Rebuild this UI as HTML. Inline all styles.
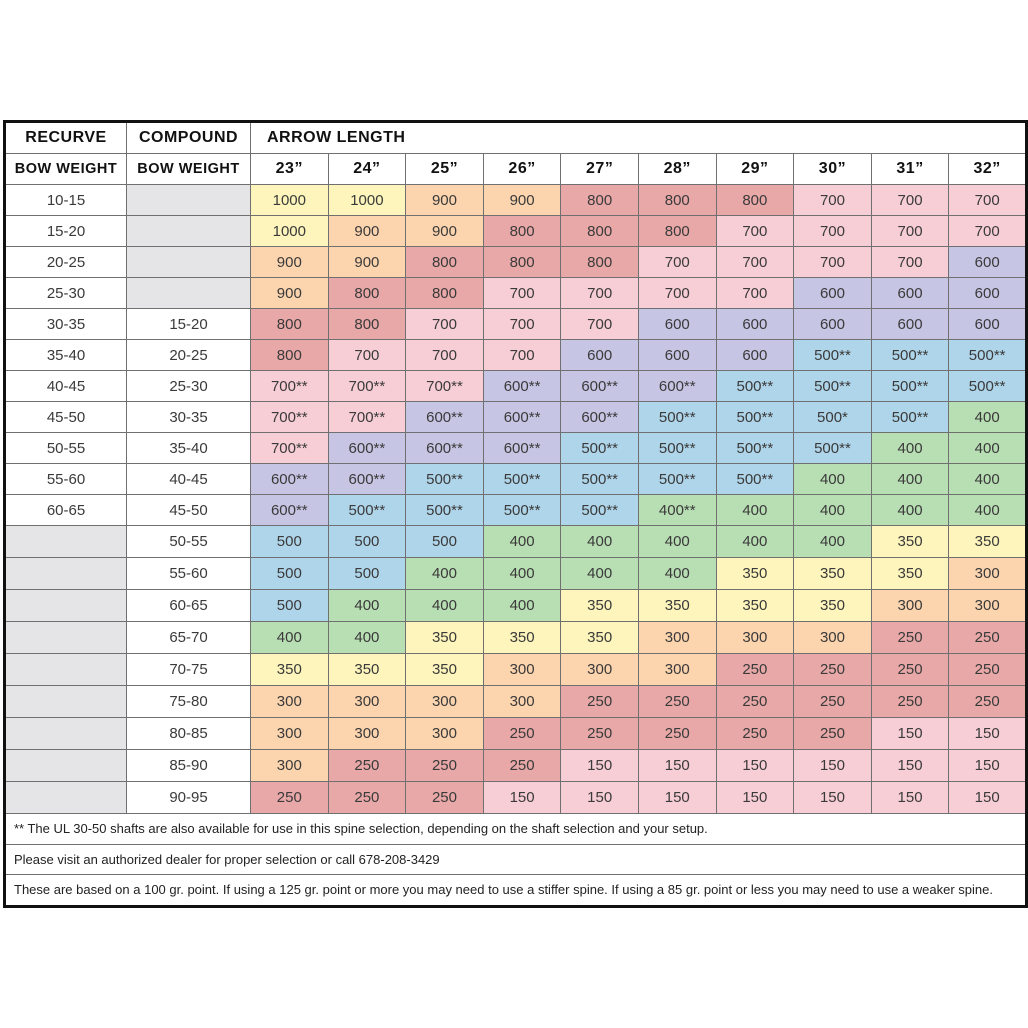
<!DOCTYPE html>
<html><head><meta charset="utf-8"><style>
body{margin:0;background:#fff;width:1028px;height:1028px;position:relative;font-family:"Liberation Sans",sans-serif;}
table{position:absolute;left:3px;top:120px;width:1022px;border-collapse:collapse;table-layout:fixed;border:3px solid #111;}
td{border:1.5px solid #707070;text-align:center;font-size:15px;color:#3a3a3a;padding:0;overflow:hidden;white-space:nowrap;}
tr.h td{font-weight:bold;color:#111;font-size:16px;letter-spacing:0.5px;}
tr.a td{height:30px}
tr.b td{height:31px}
tr.f td{height:29.5px;text-align:left;font-size:13px;padding-left:8px;color:#222}
.Y{background:#fdf5bb}.O{background:#fcd4ae}.R{background:#e9a8a8}.P{background:#f8ced6}.L{background:#c6c5e4}.B{background:#afd5ea}.G{background:#b8deb3}.X{background:#e5e5e7}
</style></head><body>
<table>
<colgroup><col style="width:122px"><col style="width:124px"><col span="10" style="width:77.6px"></colgroup>
<tr class="h a"><td>RECURVE</td><td>COMPOUND</td><td colspan="10" style="text-align:left;padding-left:16px">ARROW LENGTH</td></tr>
<tr class="h a"><td style="font-size:14.5px">BOW WEIGHT</td><td style="font-size:14.5px">BOW WEIGHT</td><td>23”</td><td>24”</td><td>25”</td><td>26”</td><td>27”</td><td>28”</td><td>29”</td><td>30”</td><td>31”</td><td>32”</td></tr>
<tr class="a"><td>10-15</td><td class="X"></td><td class="Y">1000</td><td class="Y">1000</td><td class="O">900</td><td class="O">900</td><td class="R">800</td><td class="R">800</td><td class="R">800</td><td class="P">700</td><td class="P">700</td><td class="P">700</td></tr>
<tr class="a"><td>15-20</td><td class="X"></td><td class="Y">1000</td><td class="O">900</td><td class="O">900</td><td class="R">800</td><td class="R">800</td><td class="R">800</td><td class="P">700</td><td class="P">700</td><td class="P">700</td><td class="P">700</td></tr>
<tr class="a"><td>20-25</td><td class="X"></td><td class="O">900</td><td class="O">900</td><td class="R">800</td><td class="R">800</td><td class="R">800</td><td class="P">700</td><td class="P">700</td><td class="P">700</td><td class="P">700</td><td class="L">600</td></tr>
<tr class="a"><td>25-30</td><td class="X"></td><td class="O">900</td><td class="R">800</td><td class="R">800</td><td class="P">700</td><td class="P">700</td><td class="P">700</td><td class="P">700</td><td class="L">600</td><td class="L">600</td><td class="L">600</td></tr>
<tr class="a"><td>30-35</td><td>15-20</td><td class="R">800</td><td class="R">800</td><td class="P">700</td><td class="P">700</td><td class="P">700</td><td class="L">600</td><td class="L">600</td><td class="L">600</td><td class="L">600</td><td class="L">600</td></tr>
<tr class="a"><td>35-40</td><td>20-25</td><td class="R">800</td><td class="P">700</td><td class="P">700</td><td class="P">700</td><td class="L">600</td><td class="L">600</td><td class="L">600</td><td class="B">500**</td><td class="B">500**</td><td class="B">500**</td></tr>
<tr class="a"><td>40-45</td><td>25-30</td><td class="P">700**</td><td class="P">700**</td><td class="P">700**</td><td class="L">600**</td><td class="L">600**</td><td class="L">600**</td><td class="B">500**</td><td class="B">500**</td><td class="B">500**</td><td class="B">500**</td></tr>
<tr class="a"><td>45-50</td><td>30-35</td><td class="P">700**</td><td class="P">700**</td><td class="L">600**</td><td class="L">600**</td><td class="L">600**</td><td class="B">500**</td><td class="B">500**</td><td class="B">500*</td><td class="B">500**</td><td class="G">400</td></tr>
<tr class="a"><td>50-55</td><td>35-40</td><td class="P">700**</td><td class="L">600**</td><td class="L">600**</td><td class="L">600**</td><td class="B">500**</td><td class="B">500**</td><td class="B">500**</td><td class="B">500**</td><td class="G">400</td><td class="G">400</td></tr>
<tr class="a"><td>55-60</td><td>40-45</td><td class="L">600**</td><td class="L">600**</td><td class="B">500**</td><td class="B">500**</td><td class="B">500**</td><td class="B">500**</td><td class="B">500**</td><td class="G">400</td><td class="G">400</td><td class="G">400</td></tr>
<tr class="a"><td>60-65</td><td>45-50</td><td class="L">600**</td><td class="B">500**</td><td class="B">500**</td><td class="B">500**</td><td class="B">500**</td><td class="G">400**</td><td class="G">400</td><td class="G">400</td><td class="G">400</td><td class="G">400</td></tr>
<tr class="b"><td class="X"></td><td>50-55</td><td class="B">500</td><td class="B">500</td><td class="B">500</td><td class="G">400</td><td class="G">400</td><td class="G">400</td><td class="G">400</td><td class="G">400</td><td class="Y">350</td><td class="Y">350</td></tr>
<tr class="b"><td class="X"></td><td>55-60</td><td class="B">500</td><td class="B">500</td><td class="G">400</td><td class="G">400</td><td class="G">400</td><td class="G">400</td><td class="Y">350</td><td class="Y">350</td><td class="Y">350</td><td class="O">300</td></tr>
<tr class="b"><td class="X"></td><td>60-65</td><td class="B">500</td><td class="G">400</td><td class="G">400</td><td class="G">400</td><td class="Y">350</td><td class="Y">350</td><td class="Y">350</td><td class="Y">350</td><td class="O">300</td><td class="O">300</td></tr>
<tr class="b"><td class="X"></td><td>65-70</td><td class="G">400</td><td class="G">400</td><td class="Y">350</td><td class="Y">350</td><td class="Y">350</td><td class="O">300</td><td class="O">300</td><td class="O">300</td><td class="R">250</td><td class="R">250</td></tr>
<tr class="b"><td class="X"></td><td>70-75</td><td class="Y">350</td><td class="Y">350</td><td class="Y">350</td><td class="O">300</td><td class="O">300</td><td class="O">300</td><td class="R">250</td><td class="R">250</td><td class="R">250</td><td class="R">250</td></tr>
<tr class="b"><td class="X"></td><td>75-80</td><td class="O">300</td><td class="O">300</td><td class="O">300</td><td class="O">300</td><td class="R">250</td><td class="R">250</td><td class="R">250</td><td class="R">250</td><td class="R">250</td><td class="R">250</td></tr>
<tr class="b"><td class="X"></td><td>80-85</td><td class="O">300</td><td class="O">300</td><td class="O">300</td><td class="R">250</td><td class="R">250</td><td class="R">250</td><td class="R">250</td><td class="R">250</td><td class="P">150</td><td class="P">150</td></tr>
<tr class="b"><td class="X"></td><td>85-90</td><td class="O">300</td><td class="R">250</td><td class="R">250</td><td class="R">250</td><td class="P">150</td><td class="P">150</td><td class="P">150</td><td class="P">150</td><td class="P">150</td><td class="P">150</td></tr>
<tr class="b"><td class="X"></td><td>90-95</td><td class="R">250</td><td class="R">250</td><td class="R">250</td><td class="P">150</td><td class="P">150</td><td class="P">150</td><td class="P">150</td><td class="P">150</td><td class="P">150</td><td class="P">150</td></tr>
<tr class="f"><td colspan="12">** The UL 30-50 shafts are also available for use in this spine selection, depending on the shaft selection and your setup.</td></tr>
<tr class="f"><td colspan="12">Please visit an authorized dealer for proper selection or call 678-208-3429</td></tr>
<tr class="f"><td colspan="12">These are based on a 100 gr. point. If using a 125 gr. point or more you may need to use a stiffer spine. If using a 85 gr. point or less you may need to use a weaker spine.</td></tr>
</table>
</body></html>
